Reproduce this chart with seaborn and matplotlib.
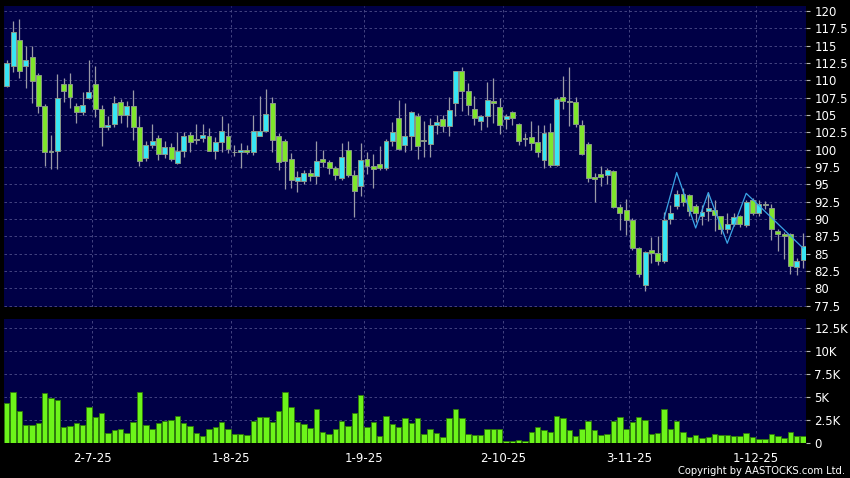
import matplotlib
matplotlib.use("Agg")
import matplotlib.pyplot as plt
import numpy as np
import seaborn as sns

# daily OHLC (trading-day index 0..126)
opens = [
    109.2, 112.07, 115.8, 112.07, 113.3, 110.7, 106.25, 99.6, 99.85, 109.4,
    109.4, 106.3, 105.4, 107.5, 109.4, 105.9, 103.2, 103.65, 106.9, 105.0,
    106.35, 103.3, 98.85, 100.7, 101.7, 99.4, 100.4, 98.1, 99.8, 102.15,
    101.45, 101.7, 102.0, 99.85, 101.05, 102.0, 99.65, 99.6, 100.0, 99.6,
    102.0, 102.75, 106.8, 101.9, 101.3, 98.6, 95.5, 95.5, 96.7, 96.2,
    98.6, 98.2, 97.3, 95.9, 100.0, 96.35, 94.8, 98.6, 97.6, 98.0,
    97.4, 101.3, 104.5, 100.7, 102.0, 104.85, 101.4, 100.8, 103.55, 104.4,
    103.4, 106.7, 111.35, 108.5, 105.85, 104.1, 104.85, 107.0, 106.2, 104.4,
    105.4, 103.7, 101.6, 101.8, 101.1, 98.55, 102.5, 97.85, 107.6, 106.9,
    106.9, 103.5, 100.8, 96.0, 96.5, 96.4, 96.9, 91.7, 91.25, 89.9,
    85.8, 80.5, 85.5, 85.1, 84.0, 90.05, 91.9, 93.65, 93.4, 91.9,
    90.4, 91.1, 91.3, 90.45, 88.5, 89.3, 90.45, 89.15, 92.7, 90.9,
    92.0, 91.6, 88.3, 87.8, 87.9, 83.1, 84.1,
]
highs = [
    113.0, 118.6, 118.85, 115.0, 115.0, 111.0, 106.6, 102.1, 110.9, 110.4,
    111.1, 106.7, 108.3, 113.0, 112.1, 106.5, 104.8, 107.8, 107.3, 107.0,
    108.6, 104.8, 101.3, 103.65, 102.1, 101.2, 101.0, 102.6, 102.5, 102.6,
    103.65, 103.7, 103.1, 101.8, 104.8, 103.9, 100.7, 101.0, 100.7, 104.95,
    107.8, 108.7, 107.6, 102.4, 101.6, 99.5, 96.9, 97.0, 97.2, 101.3,
    99.9, 98.5, 97.6, 100.9, 101.2, 97.0, 101.0, 99.6, 99.4, 100.6,
    101.6, 104.0, 107.2, 106.7, 105.6, 105.3, 104.2, 104.6, 105.0, 105.0,
    107.55, 111.4, 111.9, 109.6, 107.7, 105.0, 109.8, 110.4, 107.5, 105.1,
    105.6, 103.9, 102.4, 104.2, 103.6, 103.6, 103.8, 107.6, 110.6, 111.9,
    107.6, 104.3, 101.1, 96.6, 97.6, 97.4, 97.0, 92.2, 92.9, 90.2,
    86.0, 85.4, 87.4, 87.5, 91.0, 92.0, 94.2, 94.5, 93.6, 92.2,
    92.0, 93.9, 92.8, 90.5, 90.9, 90.9, 90.6, 92.8, 93.0, 92.7,
    92.6, 92.2, 88.6, 88.1, 88.0, 84.4, 88.0,
]
lows = [
    109.0, 111.25, 110.4, 108.9, 106.7, 105.25, 97.7, 97.2, 97.2, 106.9,
    106.0, 103.9, 105.0, 107.3, 104.7, 100.6, 102.8, 103.3, 103.8, 103.2,
    101.4, 97.6, 98.3, 100.2, 98.5, 98.75, 98.4, 98.0, 99.0, 99.6,
    100.8, 101.1, 99.8, 98.7, 99.7, 99.5, 99.1, 97.4, 99.4, 99.3,
    101.9, 102.5, 99.7, 97.1, 94.3, 94.4, 93.95, 95.0, 95.5, 95.0,
    97.5, 96.5, 95.6, 95.6, 96.0, 90.3, 93.3, 96.5, 94.4, 97.0,
    97.0, 100.5, 99.9, 99.7, 99.9, 98.65, 99.0, 99.0, 102.2, 102.6,
    102.0, 104.9, 105.6, 105.0, 103.6, 102.9, 103.2, 103.8, 102.2, 103.0,
    103.6, 100.7, 100.5, 100.0, 99.0, 97.35, 97.5, 97.7, 105.8, 103.4,
    103.3, 99.2, 95.3, 92.5, 94.8, 95.0, 91.6, 88.4, 87.7, 85.6,
    81.7, 79.55, 83.6, 83.4, 83.6, 89.3, 91.5, 91.9, 90.5, 89.5,
    89.2, 89.7, 88.2, 87.8, 88.0, 89.0, 88.8, 88.9, 90.6, 90.5,
    91.5, 86.9, 85.4, 84.3, 82.0, 81.9, 83.0,
]
closes = [
    112.45, 116.9, 111.3, 113.0, 109.85, 106.25, 99.6, 99.85, 107.4, 108.5,
    107.65, 105.4, 106.5, 108.3, 105.9, 103.2, 103.6, 106.8, 105.0, 106.35,
    103.3, 98.35, 100.7, 101.3, 99.4, 100.4, 98.6, 99.8, 102.0, 101.05,
    101.5, 102.1, 99.85, 101.05, 102.75, 100.1, 99.6, 100.0, 99.6, 102.75,
    102.75, 105.2, 101.4, 98.2, 98.4, 95.6, 96.1, 96.7, 96.2, 98.3,
    98.2, 97.3, 96.4, 98.9, 96.35, 94.1, 98.5, 97.6, 97.2, 97.4,
    101.3, 102.5, 100.05, 102.0, 105.4, 100.5, 101.25, 103.55, 104.0, 103.4,
    105.7, 111.35, 108.5, 106.45, 104.55, 104.85, 107.15, 106.8, 103.55, 104.9,
    104.55, 101.3, 101.65, 100.9, 99.6, 102.4, 97.85, 107.3, 107.0, 106.85,
    103.7, 99.4, 95.9, 95.7, 96.05, 97.1, 91.8, 90.85, 89.9, 85.8,
    82.0, 85.2, 85.1, 84.0, 89.9, 90.8, 93.65, 92.45, 91.15, 90.9,
    91.05, 91.6, 90.6, 88.5, 89.3, 90.3, 89.3, 92.45, 90.9, 92.2,
    92.0, 88.6, 87.9, 87.55, 83.2, 83.95, 86.1,
]
# volume in thousands
volume_k = [
    4.35, 5.6, 3.5, 2.0, 2.0, 2.2, 5.4, 4.9, 4.7, 1.75,
    1.9, 2.2, 2.0, 3.9, 2.85, 3.3, 1.15, 1.45, 1.55, 1.1,
    2.35, 5.5, 2.0, 1.5, 2.2, 2.4, 2.55, 2.9, 2.15, 1.85,
    1.1, 0.8, 1.6, 1.75, 2.3, 1.6, 1.0, 1.0, 0.85, 2.45,
    2.8, 2.8, 2.3, 3.5, 5.5, 3.9, 2.35, 2.1, 1.65, 3.7,
    1.2, 1.0, 1.5, 2.4, 1.85, 3.3, 5.2, 1.8, 2.3, 0.8,
    3.0, 2.05, 1.75, 2.7, 2.15, 2.75, 1.0, 1.6, 1.1, 0.7,
    2.7, 3.75, 2.7, 1.05, 0.85, 0.85, 1.6, 1.55, 1.55, 0.2,
    0.2, 0.4, 0.2, 1.25, 1.8, 1.45, 1.2, 2.95, 2.7, 1.4,
    0.75, 1.6, 2.4, 1.4, 0.95, 1.0, 2.45, 2.8, 1.6, 2.3,
    2.85, 2.55, 1.05, 1.15, 3.75, 1.55, 2.4, 1.25, 0.7, 0.85,
    0.55, 0.65, 1.0, 0.85, 0.85, 0.75, 0.75, 1.1, 0.65, 0.45,
    0.45, 1.0, 0.75, 0.55, 1.25, 0.8, 0.8,
]
# thin overlay line (index, price)
line_idx = [104, 106, 109, 111, 114, 117, 126]
line_val = [90.1, 96.7, 88.7, 93.8, 86.5, 93.7, 85.8]

tick_idx = [13, 35, 56, 78, 98, 118]
tick_labels = ["2-7-25", "1-8-25", "1-9-25", "2-10-25", "3-11-25", "1-12-25"]
price_ticks = [77.5, 80, 82.5, 85, 87.5, 90, 92.5, 95, 97.5, 100,
               102.5, 105, 107.5, 110, 112.5, 115, 117.5, 120]
vol_ticks = [0, 2.5, 5, 7.5, 10, 12.5]

NAVY = "#000046"
CYAN = "#38e6f4"
GREEN = "#7fe62c"
VOL_GREEN = "#6cf41a"
GRID = "#4e4e8a"

sns.set_style("dark")
plt.rcParams["font.family"] = ["DejaVu Sans"]

o = np.array(opens); h = np.array(highs); l = np.array(lows); c = np.array(closes)
idx = np.arange(len(o))
body_lo = np.minimum(o, c)
body_h = np.maximum(np.abs(c - o), 0.12)
colors = [CYAN if cc - oo > 0.1 else (GREEN if oo - cc > 0.1 else "#a8a8a8")
          for oo, cc in zip(o, c)]

fig = plt.figure(figsize=(8.5, 4.78), dpi=100, facecolor="black")
W, H = 850, 478
ax_p = fig.add_axes([4 / W, (H - 306.5) / H, 802 / W, 300.5 / H])
ax_v = fig.add_axes([4 / W, (H - 443.3) / H, 802 / W, 124.3 / H])

for ax in (ax_p, ax_v):
    ax.set_facecolor(NAVY)
    for s in ax.spines.values():
        s.set_visible(False)
    ax.set_axisbelow(True)
    ax.grid(True, color=GRID, linestyle=(0, (3, 3)), linewidth=0.6)
    ax.set_xlim(-0.44, len(o) - 1 + 0.46)

# candles
ax_p.vlines(idx, l, h, color="#9a9aa6", linewidth=0.9, zorder=2)
ax_p.bar(idx, body_h, bottom=body_lo, width=0.78, color=colors,
         edgecolor="#8a9888", linewidth=0.7, zorder=3)
sns.lineplot(x=line_idx, y=line_val, ax=ax_p, color="#3aa4e6", linewidth=0.9, zorder=4)

ax_p.set_ylim(77.38, 120.72)
ax_p.yaxis.tick_right()
ax_p.set_yticks(price_ticks)
ax_p.set_yticklabels([f"{v:g}" for v in price_ticks])
ax_p.set_xticks([t + 0.5 for t in tick_idx])
ax_p.tick_params(axis="x", length=0, labelbottom=False)
ax_p.tick_params(axis="y", direction="out", length=3, color="#b8b8b8",
                 labelcolor="white", labelsize=8.5, pad=3)
ax_p.set_xlabel(""); ax_p.set_ylabel("")

# volume
sns.barplot(x=idx, y=volume_k, ax=ax_v, native_scale=True, color=VOL_GREEN,
            saturation=1, width=0.86, edgecolor="#2e7a08", linewidth=0.6,
            errorbar=None, zorder=3)
ax_v.set_xlim(-0.44, len(o) - 1 + 0.46)
ax_v.set_ylim(0, 13.44)
ax_v.yaxis.tick_right()
ax_v.set_yticks(vol_ticks)
ax_v.set_yticklabels(["0" if v == 0 else f"{v:g}K" for v in vol_ticks])
ax_v.set_xticks([t + 0.5 for t in tick_idx])
ax_v.set_xticklabels(tick_labels)
ax_v.tick_params(axis="y", direction="out", length=3, color="#b8b8b8",
                 labelcolor="white", labelsize=8.5, pad=3)
ax_v.tick_params(axis="x", direction="out", length=3, color="#b8b8b8",
                 labelcolor="white", labelsize=8.5, pad=3)
ax_v.set_xlabel(""); ax_v.set_ylabel("")

fig.text(845 / W, 7 / H, "Copyright by AASTOCKS.com Ltd.", color="white",
         fontsize=7.2, ha="right", va="center")

fig.savefig("out.png", dpi=100, facecolor="black")
